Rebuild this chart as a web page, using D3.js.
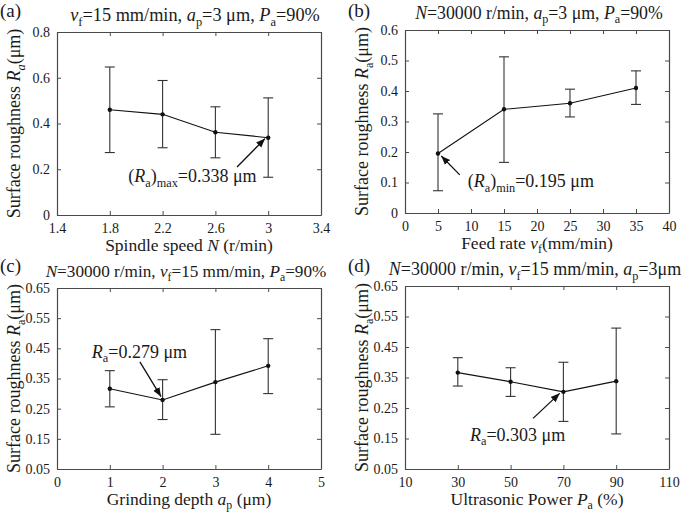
<!DOCTYPE html>
<html><head><meta charset="utf-8">
<script src="https://cdn.jsdelivr.net/npm/d3@7"></script>
<style>
html,body{margin:0;padding:0;background:#fff;}
svg text{font-family:"Liberation Serif","Times New Roman",Times,"DejaVu Serif","Noto Serif",serif !important;}
</style></head><body>
<svg id="chart" width="685" height="513"></svg>
<script>
// ---- data ----
const xA = [1.8, 2.2, 2.6, 3.0];
const yA = [0.460, 0.440, 0.362, 0.338];
const loA = [0.273, 0.294, 0.250, 0.165];
const hiA = [0.647, 0.588, 0.473, 0.512];
const ticksXA = [1.4, 1.8, 2.2, 2.6, 3, 3.4];
const ticksYA = [0, 0.2, 0.4, 0.6, 0.8];

const xB = [5, 15, 25, 35];
const yB = [0.195, 0.340, 0.360, 0.410];
const loB = [0.073, 0.166, 0.315, 0.356];
const hiB = [0.325, 0.512, 0.406, 0.466];
const ticksXB = [0, 5, 10, 15, 20, 25, 30, 35, 40];
const ticksYB = [0, 0.1, 0.2, 0.3, 0.4, 0.5, 0.6];

const xC = [1, 2, 3, 4];
const yC = [0.316, 0.279, 0.338, 0.392];
const loC = [0.256, 0.214, 0.165, 0.300];
const hiC = [0.376, 0.346, 0.512, 0.482];
const ticksXC = [0, 1, 2, 3, 4, 5];
const ticksYC = [0.05, 0.15, 0.25, 0.35, 0.45, 0.55, 0.65];

const xD = [30, 50, 70, 90];
const yD = [0.366, 0.336, 0.303, 0.338];
const loD = [0.322, 0.288, 0.206, 0.165];
const hiD = [0.415, 0.382, 0.400, 0.512];
const ticksXD = [10, 30, 50, 70, 90, 110];
const ticksYD = [0.05, 0.15, 0.25, 0.35, 0.45, 0.55, 0.65];

const svg = d3.select("#chart");
const defs = svg.append("defs");
defs.append("marker").attr("id","arr").attr("viewBox","0 0 10 10")
  .attr("refX",10).attr("refY",5).attr("markerWidth",9).attr("markerHeight",9)
  .attr("markerUnits","userSpaceOnUse").attr("orient","auto")
  .append("path").attr("d","M0,1 L10,5 L0,9 Z").attr("fill","#111");

const TXT = "#1a1a1a";

function rich(sel, parts, size) {
  let prevSub = false;
  parts.forEach(([t, st]) => {
    const sub = !!(st && st.includes("s"));
    const ts = sel.append("tspan").text(t);
    if (st && st.includes("i")) ts.attr("font-style","italic");
    if (sub) ts.attr("font-size", size*0.68);
    if (sub && !prevSub) ts.attr("dy", size*0.25);
    if (!sub && prevSub) ts.attr("dy", -size*0.25);
    prevSub = sub;
  });
}

function panel(cfg) {
  const g = svg.append("g");
  const x = d3.scaleLinear().domain(cfg.xd).range([cfg.l, cfg.r]);
  const y = d3.scaleLinear().domain(cfg.yd).range([cfg.b, cfg.t]);
  const tl = 4;
  const fmt = cfg.fmt;
  const bottom = g.append("g").attr("transform",`translate(0,${cfg.b})`)
    .call(d3.axisBottom(x).tickValues(cfg.tx).tickSizeInner(-tl).tickSizeOuter(0).tickPadding(8).tickFormat(fmt));
  const top = g.append("g").attr("transform",`translate(0,${cfg.t})`)
    .call(d3.axisTop(x).tickValues(cfg.tx).tickSizeInner(-tl).tickSizeOuter(0).tickFormat(""));
  const left = g.append("g").attr("transform",`translate(${cfg.l},0)`)
    .call(d3.axisLeft(y).tickValues(cfg.ty).tickSizeInner(-tl).tickSizeOuter(0).tickPadding(7).tickFormat(fmt));
  const right = g.append("g").attr("transform",`translate(${cfg.r},0)`)
    .call(d3.axisRight(y).tickValues(cfg.ty).tickSizeInner(-tl).tickSizeOuter(0).tickFormat(""));
  [bottom, top, left, right].forEach(a => {
    a.select(".domain").attr("stroke","#4a4a4a").attr("stroke-width",1.2);
    a.selectAll(".tick line").attr("stroke","#4a4a4a");
    a.selectAll("text").attr("font-size",14).attr("fill",TXT);
  });
  const pts = cfg.xs.map((v,i)=>({x:v,y:cfg.ys[i],lo:cfg.lo[i],hi:cfg.hi[i]}));
  g.append("path").datum(pts).attr("fill","none").attr("stroke","#111").attr("stroke-width",1.1)
    .attr("d", d3.line().x(d=>x(d.x)).y(d=>y(d.y)));
  const eb = g.selectAll(".eb").data(pts).enter().append("g").attr("stroke","#333").attr("stroke-width",1.1);
  eb.append("line").attr("x1",d=>x(d.x)).attr("x2",d=>x(d.x)).attr("y1",d=>y(d.lo)).attr("y2",d=>y(d.hi));
  eb.append("line").attr("x1",d=>x(d.x)-5).attr("x2",d=>x(d.x)+5).attr("y1",d=>y(d.lo)).attr("y2",d=>y(d.lo));
  eb.append("line").attr("x1",d=>x(d.x)-5).attr("x2",d=>x(d.x)+5).attr("y1",d=>y(d.hi)).attr("y2",d=>y(d.hi));
  g.selectAll(".pt").data(pts).enter().append("circle")
    .attr("cx",d=>x(d.x)).attr("cy",d=>y(d.y)).attr("r",2.2).attr("fill","#111");
  g.append("text").attr("x",cfg.l-57).attr("y",cfg.tagY).attr("font-size",19).attr("fill",TXT).text(cfg.tag);
  const tt = g.append("text").attr("x",cfg.titleX).attr("y",cfg.t-11).attr("font-size",cfg.titleSize)
    .attr("text-anchor","middle").attr("fill",TXT);
  rich(tt, cfg.title, cfg.titleSize);
  const xl = g.append("text").attr("x",(cfg.l+cfg.r)/2).attr("y",cfg.b+36).attr("font-size",17.5)
    .attr("text-anchor","middle").attr("fill",TXT);
  rich(xl, cfg.xlabel, 17.5);
  const yl = g.append("text").attr("transform",`translate(${cfg.l-37},${(cfg.t+cfg.b)/2}) rotate(-90)`)
    .attr("font-size",18).attr("text-anchor","middle").attr("fill",TXT);
  rich(yl, cfg.ylabel, 18);
  const an = cfg.ann;
  g.append("line").attr("x1",x(an.tail[0])).attr("y1",y(an.tail[1]))
    .attr("x2",x(an.head[0])).attr("y2",y(an.head[1]))
    .attr("stroke","#111").attr("stroke-width",1.3).attr("marker-end","url(#arr)");
  const at = g.append("text").attr("x",x(an.text[0])).attr("y",y(an.text[1])).attr("font-size",18).attr("fill",TXT);
  rich(at, an.parts, 18);
}

const yLab = [["Surface roughness "],["R","i"],["a","s"],["(μm)"]];

panel({tag:"(a)", tagY:17, l:57, r:321, t:32, b:215, xd:[1.4,3.4], yd:[0,0.8], tx:ticksXA, ty:ticksYA,
  fmt:d=>String(+d.toFixed(1)),
  xs:xA, ys:yA, lo:loA, hi:hiA, titleX:195, titleSize:18.3,
  title:[["v","i"],["f","s"],["=15 mm/min, "],["a","i"],["p","s"],["=3 μm, "],["P","i"],["a","s"],["=90%"]],
  xlabel:[["Spindle speed "],["N","i"],[" (r/min)"]],
  ylabel:[["Surface roughness "],["R","i"],["a","si"],["(μm)"]],
  ann:{tail:[2.764,0.21], head:[2.976,0.334], text:[1.94,0.144],
       parts:[["("],["R","i"],["a","s"],[")"],["max","s"],["=0.338 μm"]]}});

panel({tag:"(b)", tagY:17, l:405, r:669, t:30, b:213, xd:[0,40], yd:[0,0.6], tx:ticksXB, ty:ticksYB,
  fmt:d=>String(+d.toFixed(1)),
  xs:xB, ys:yB, lo:loB, hi:hiB, titleX:539, titleSize:17.8,
  title:[["N","i"],["=30000 r/min, "],["a","i"],["p","s"],["=3 μm, "],["P","i"],["a","s"],["=90%"]],
  xlabel:[["Feed rate "],["v","i"],["f","s"],["(mm/min)"]],
  ylabel:yLab,
  ann:{tail:[8.3,0.125], head:[5.5,0.187], text:[9.5,0.085],
       parts:[["("],["R","i"],["a","s"],[")"],["min","s"],["=0.195 μm"]]}});

panel({tag:"(c)", tagY:272, l:57, r:321, t:288, b:469, xd:[0,5], yd:[0.05,0.65], tx:ticksXC, ty:ticksYC,
  fmt:d=>String(+d.toFixed(2)),
  xs:xC, ys:yC, lo:loC, hi:hiC, titleX:186, titleSize:17.2,
  title:[["N","i"],["=30000 r/min, "],["v","i"],["f","s"],["=15 mm/min, "],["P","i"],["a","s"],["=90%"]],
  xlabel:[["Grinding depth "],["a","i"],["p","s"],[" (μm)"]],
  ylabel:yLab,
  ann:{tail:[1.57,0.405], head:[1.97,0.29], text:[0.66,0.418],
       parts:[["R","i"],["a","s"],["=0.279 μm"]]}});

panel({tag:"(d)", tagY:272, l:405, r:669, t:286, b:469, xd:[10,110], yd:[0.05,0.65], tx:ticksXD, ty:ticksYD,
  fmt:d=>String(+d.toFixed(2)),
  xs:xD, ys:yD, lo:loD, hi:hiD, titleX:535, titleSize:18,
  title:[["N","i"],["=30000 r/min, "],["v","i"],["f","s"],["=15 mm/min, "],["a","i"],["p","s"],["=3μm"]],
  xlabel:[["Ultrasonic Power "],["P","i"],["a","s"],[" (%)"]],
  ylabel:yLab,
  ann:{tail:[58.5,0.216], head:[68.6,0.298], text:[34.6,0.143],
       parts:[["R","i"],["a","s"],["=0.303 μm"]]}});
</script>
</body></html>
